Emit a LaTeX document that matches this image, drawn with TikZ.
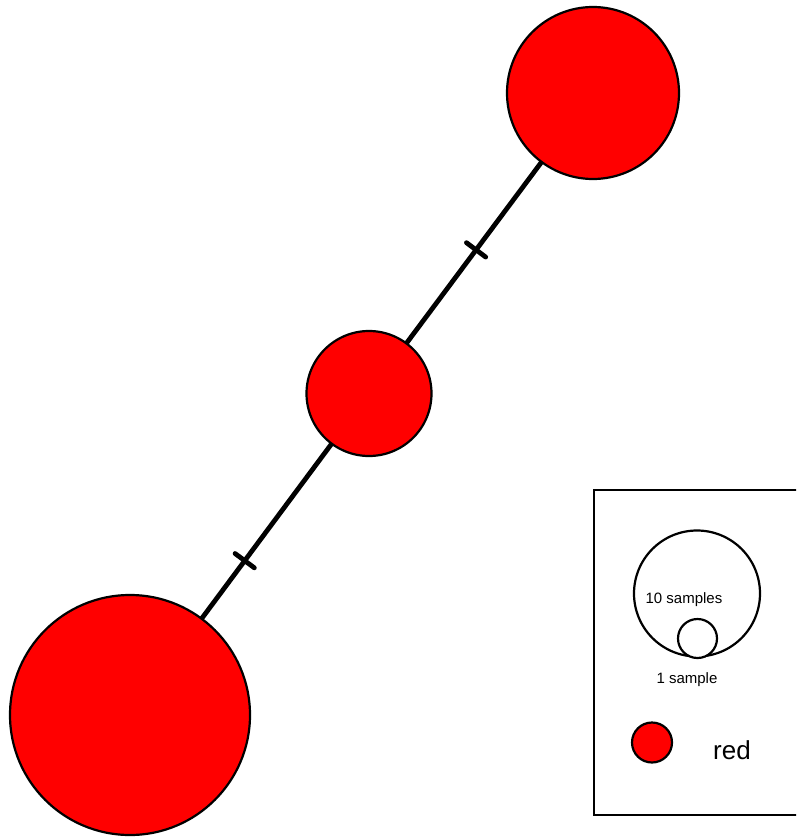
\documentclass[tikz,border=0pt]{standalone}
\usepackage{fontspec}
\setmainfont{Liberation Sans}
\usetikzlibrary{calc}
\tikzset{
  vertex/.style={circle, draw=black, fill=red, line width=2.2pt, inner sep=0pt, outer sep=0pt},
  edgeline/.style={line width=4.8pt, draw=black},
  tickline/.style={line width=4.8pt, draw=black, line cap=round},
  legendring/.style={circle, draw=black, fill=white, line width=2.2pt, inner sep=0pt},
  legendtext/.style={inner sep=0pt, anchor=base, font=\fontsize{15}{18}\selectfont},
}
\begin{document}
\begin{tikzpicture}[x=1pt,y=-1pt]
\useasboundingbox (0,0) rectangle (796,838);
\clip (0,0) rectangle (796,838);
\fill[white] (0,0) rectangle (796,838);
% vertices
\node[vertex, minimum size=172pt] (top) at (593,93) {};
\node[vertex, minimum size=125pt] (mid) at (369,393.5) {};
\node[vertex, minimum size=240pt] (bot) at (130,715) {};
% edges
\draw[edgeline] (top) -- (mid);
\draw[edgeline] (mid) -- (bot);
% tick marks
\coordinate (t1) at ($(top.center)!0.522!(mid.center)$);
\coordinate (t2) at ($(mid.center)!0.52!(bot.center)$);
\draw[tickline] ($(t1)!12pt!90:(mid.center)$) -- ($(t1)!12pt!-90:(mid.center)$);
\draw[tickline] ($(t2)!12pt!90:(bot.center)$) -- ($(t2)!12pt!-90:(bot.center)$);
% legend
\draw[line width=2.4pt] (594,490) rectangle (820,815);
\node[legendring, minimum size=126pt] (big) at (697,593.5) {};
\node[legendring, minimum size=39pt] (small) at (697.5,638.5) {};
\node[legendtext] (l10) at (684,603.5) {10 samples};
\node[legendtext] (l1) at (687,683.5) {1 sample};
\node[vertex, minimum size=40pt] (lred) at (652,742.5) {};
\node[legendtext, font=\fontsize{26}{30}\selectfont] (lredt) at (732,759.5) {red};
\end{tikzpicture}
\end{document}
